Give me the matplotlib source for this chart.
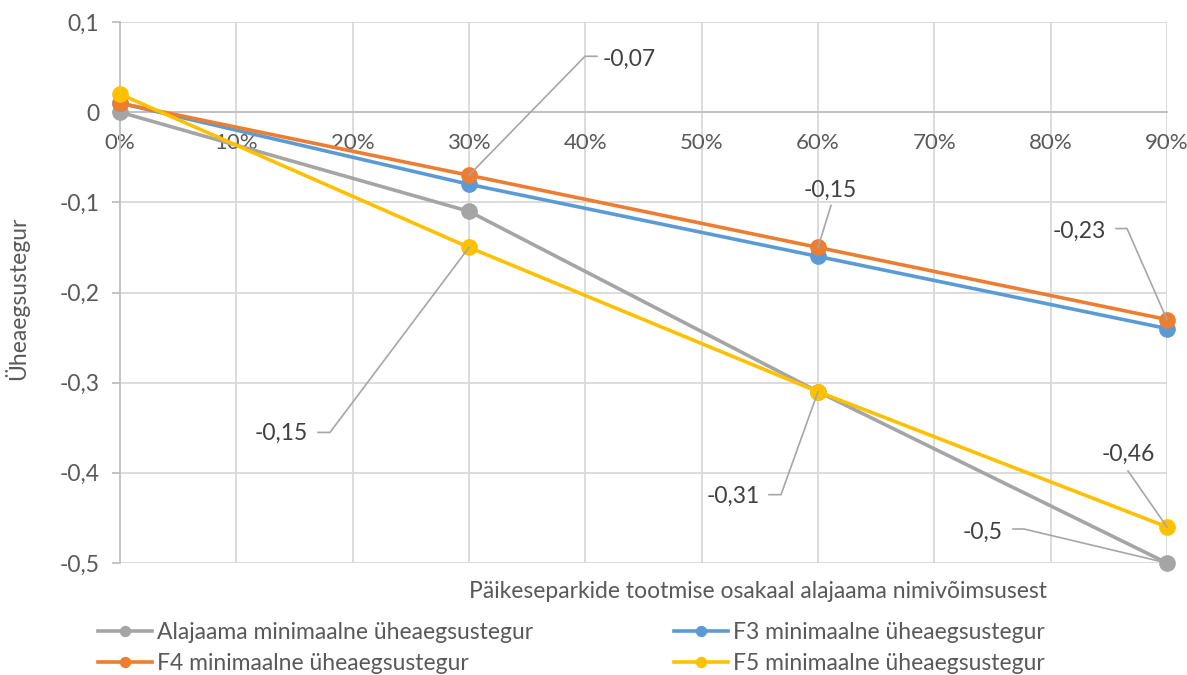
import matplotlib.pyplot as plt
from matplotlib.lines import Line2D
from matplotlib.transforms import IdentityTransform

plt.rcParams['font.family'] = ['Lato', 'DejaVu Sans']

# solar share of substation rating, %
share = [0, 30, 60, 90]
alajaama = [0.0, -0.11, -0.31, -0.5]
f3 = [0.01, -0.08, -0.16, -0.24]
f4 = [0.01, -0.07, -0.15, -0.23]
f5 = [0.02, -0.15, -0.31, -0.46]

names = ["Alajaama minimaalne üheaegsustegur", "F3 minimaalne üheaegsustegur",
         "F4 minimaalne üheaegsustegur", "F5 minimaalne üheaegsustegur"]
colors = ["#A5A5A5", "#5B9BD5", "#ED7D31", "#FFC000"]

x_ticks = [0, 10, 20, 30, 40, 50, 60, 70, 80, 90]
y_ticks = [0.1, 0, -0.1, -0.2, -0.3, -0.4, -0.5]

FS = 16.5

fig = plt.figure(figsize=(11.87, 6.75), dpi=100)
ax = fig.add_axes([120 / 1187, 1 - 563 / 675, 1047 / 1187, 541 / 675])

ax.set_xlim(0, 90)
ax.set_ylim(-0.5, 0.1)

# grid
for xv in x_ticks[1:]:
    ax.axvline(xv, color="#D9D9D9", lw=1.3, zorder=0)
for yv in y_ticks:
    ax.axhline(yv, color="#D9D9D9", lw=1.3, zorder=0)

for s in ["top", "right"]:
    ax.spines[s].set_visible(False)
ax.spines["left"].set_color("#BFBFBF")
ax.spines["left"].set_linewidth(1.3)
ax.spines["bottom"].set_position(("data", 0))
ax.spines["bottom"].set_color("#BFBFBF")
ax.spines["bottom"].set_linewidth(1.3)

ax.set_xticks(x_ticks)
ax.set_xticklabels([f"{v}%" for v in x_ticks])
ax.set_yticks(y_ticks)
ax.set_yticklabels([f"{v:g}".replace(".", ",") for v in y_ticks])
ax.tick_params(axis="x", length=0, pad=15, labelsize=16, labelcolor="#595959")
ax.tick_params(axis="y", length=6, width=1.3, color="#BFBFBF", pad=9,
               labelsize=FS, labelcolor="#595959")

lines = []
for vals, name, c in zip([alajaama, f3, f4, f5], names, colors):
    ln, = ax.plot(share, vals, color=c, lw=2.6, marker="o", ms=11,
                  label=name, clip_on=False, zorder=3)
    lines.append(ln)

fig.text(1047 / 1187, 1 - 591 / 675, "Päikeseparkide tootmise osakaal alajaama nimivõimsusest",
         fontsize=FS, color="#595959", va="center", ha="right")
fig.text(17 / 1187, 1 - 298 / 675, "Üheaegsustegur", rotation=90, fontsize=FS,
         color="#595959", va="center", ha="center")

# data labels: (x, y, text, text offset px, alignment, leader path px)
labels = [
    (30, f4[1], "-0,07", (134, 116), "left", [(0, 0), (116, 119), (128, 119)]),
    (60, f4[2], "-0,15", (12, 57), "center", [(0, 0), (13, 42)]),
    (90, f4[3], "-0,23", (-61, 88), "right", [(0, 0), (-40, 91), (-51, 91)]),
    (30, f5[1], "-0,15", (-161, -186), "right", [(0, 0), (-139, -185), (-151, -185)]),
    (60, f5[2], "-0,31", (-58, -105), "right", [(0, 0), (-37, -103), (-49, -103)]),
    (90, f5[3], "-0,46", (-39, 73), "center", [(0, 0), (-39, 56)]),
    (90, alajaama[3], "-0,5", (-164, 31), "right", [(0, 0), (-143, 34), (-154, 34)]),
]
for xv, yv, txt, off, ha, path in labels:
    px, py = ax.transData.transform((xv, yv))
    fig.add_artist(Line2D([px + dx for dx, dy in path], [py + dy for dx, dy in path],
                          transform=IdentityTransform(), color="#A6A6A6", lw=1.2, zorder=4))
    ax.annotate(txt, xy=(xv, yv), xytext=off, textcoords="offset pixels",
                ha=ha, va="center", fontsize=FS, color="#404040", annotation_clip=False)

order = [0, 2, 1, 3]
fig.legend([lines[i] for i in order], [names[i] for i in order], ncol=2,
           loc="center left", bbox_to_anchor=(98 / 1187, 1 - 648 / 675), frameon=False,
           fontsize=FS, labelcolor="#595959", handlelength=2.36, handletextpad=0.22,
           columnspacing=6.15, labelspacing=0.42, borderpad=0, borderaxespad=0,
           markerscale=0.65)

fig.savefig("out.png", dpi=100)
